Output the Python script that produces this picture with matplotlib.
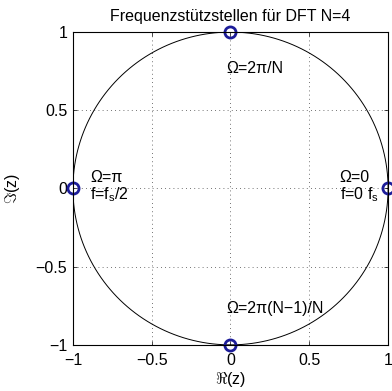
import numpy as np
import matplotlib.pyplot as plt

plt.rcParams['font.family'] = ['Liberation Sans', 'DejaVu Sans']
plt.rcParams['mathtext.fontset'] = 'custom'
plt.rcParams['mathtext.rm'] = 'Liberation Sans'
plt.rcParams['mathtext.it'] = 'Liberation Sans:italic'

# DFT points on the unit circle, N = 4
N = 4
point_re = [1, 0, -1, 0]
point_im = [0, 1, 0, -1]
ticks = [-1, -0.5, 0, 0.5, 1]
tick_labels = ['\u22121', '\u22120.5', '0', '0.5', '1']

fig = plt.figure(figsize=(3.92, 3.91), dpi=100)
ax = fig.add_axes([0.186, 0.118, 0.804, 0.800])

phi = np.linspace(0, 2 * np.pi, 400)
ax.plot(np.cos(phi), np.sin(phi), color='black', lw=0.7)
ax.plot(point_re, point_im, 'o', ms=8, mfc='none', mec='#1c1c99', mew=2, clip_on=False)

fs = 11.5
ax.text(-0.025, 0.77, '\u03a9=2\u03c0/N', fontsize=fs, ha='left', va='center')
ax.text(-0.025, -0.77, '\u03a9=2\u03c0(N\u22121)/N', fontsize=fs, ha='left', va='center')
ax.text(-0.89, 0.07, '\u03a9=\u03c0', fontsize=fs, ha='left', va='center')
ax.text(-0.89, -0.04, r'f=f$_\mathrm{s}$/2', fontsize=fs, ha='left', va='center')
ax.text(0.885, 0.07, '\u03a9=0', fontsize=fs, ha='right', va='center')
ax.text(0.94, -0.04, r'f=0 f$_\mathrm{s}$', fontsize=fs, ha='right', va='center')

ax.set_xlim(-1, 1)
ax.set_ylim(-1, 1)
ax.set_xticks(ticks)
ax.set_yticks(ticks)
ax.set_xticklabels(tick_labels, fontsize=fs)
ax.set_yticklabels(tick_labels, fontsize=fs)
ax.tick_params(direction='in', top=True, right=True, length=3, width=0.5)
ax.tick_params(axis='x', pad=6)
ax.tick_params(axis='y', pad=4)
ax.grid(True, linestyle=(0, (1, 4)), color='#444444', lw=0.6)
for s in ax.spines.values():
    s.set_linewidth(0.8)

ax.set_title('Frequenzst\u00fctzstellen f\u00fcr DFT N=4', fontsize=fs, pad=8)
ax.set_xlabel(r'$\Re$(z)', fontsize=fs, labelpad=1)
ax.set_ylabel(r'$\Im$(z)', fontsize=fs, labelpad=10)

fig.savefig('out.png', dpi=100)
